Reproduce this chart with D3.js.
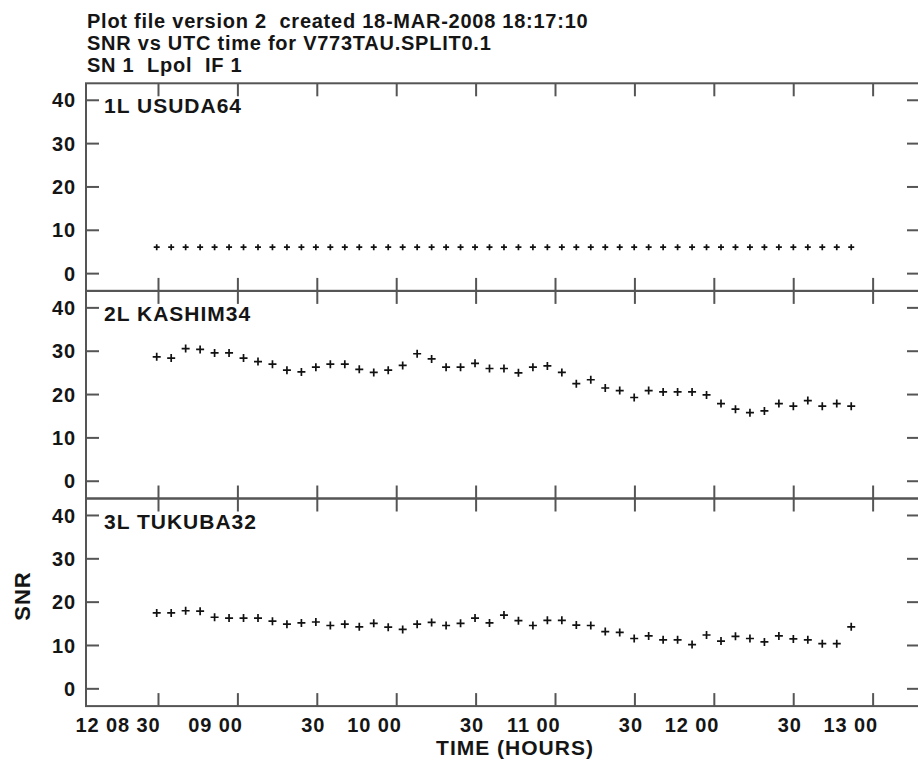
<!DOCTYPE html>
<html>
<head>
<meta charset="utf-8">
<script src="https://cdn.jsdelivr.net/npm/d3@7"></script>
<style>
  body { margin: 0; background: #fff; }
  text { font-family: "Liberation Sans", Arial, sans-serif; font-weight: bold; fill: #151515; white-space: pre; }
</style>
</head>
<body>
<div id="chart-area"></div>
<script>
// title lines
var titleLines = [
    "Plot file version 2  created 18-MAR-2008 18:17:10",
    "SNR vs UTC time for V773TAU.SPLIT0.1",
    "SN 1  Lpol  IF 1"
];

// scan times (UTC)
var times = [
    "08:29:31", "08:34:59", "08:40:27", "08:45:55", "08:51:23", "08:56:51", "09:02:19",
    "09:07:47", "09:13:15", "09:18:43", "09:24:11", "09:29:39", "09:35:07", "09:40:35",
    "09:46:03", "09:51:31", "09:56:59", "10:02:27", "10:07:55", "10:13:23", "10:18:51",
    "10:24:19", "10:29:47", "10:35:15", "10:40:43", "10:46:11", "10:51:39", "10:57:07",
    "11:02:35", "11:08:03", "11:13:31", "11:18:59", "11:24:27", "11:29:55", "11:35:23",
    "11:40:51", "11:46:19", "11:51:47", "11:57:15", "12:02:43", "12:08:11", "12:13:39",
    "12:19:07", "12:24:35", "12:30:03", "12:35:31", "12:40:59", "12:46:27", "12:51:55"
];

var stations = ["1L USUDA64", "2L KASHIM34", "3L TUKUBA32"];

var snrUsuda = [
    6.0, 6.0, 6.0, 6.0, 6.0, 6.0, 6.0, 6.0, 6.0, 6.0, 6.0, 6.0, 6.0, 6.0,
    6.0, 6.0, 6.0, 6.0, 6.0, 6.0, 6.0, 6.0, 6.0, 6.0, 6.0, 6.0, 6.0, 6.0,
    6.0, 6.0, 6.0, 6.0, 6.0, 6.0, 6.0, 6.0, 6.0, 6.0, 6.0, 6.0, 6.0, 6.0,
    6.0, 6.0, 6.0, 6.0, 6.0, 6.0, 6.0
];
var snrKashim = [
    28.6, 28.3, 30.5, 30.3, 29.5, 29.5, 28.3, 27.5, 26.9, 25.5, 25.1, 26.2, 26.9, 26.9,
    25.7, 25.0, 25.5, 26.6, 29.3, 28.1, 26.2, 26.2, 27.1, 25.9, 25.9, 24.9, 26.2, 26.5,
    25.0, 22.4, 23.3, 21.4, 20.8, 19.2, 20.8, 20.5, 20.5, 20.5, 19.8, 17.8, 16.5, 15.7,
    16.1, 17.8, 17.2, 18.5, 17.2, 17.8, 17.2
];
var snrTukuba = [
    17.4, 17.4, 17.9, 17.8, 16.4, 16.2, 16.2, 16.2, 15.5, 14.8, 15.1, 15.3, 14.5, 14.8,
    14.2, 15.0, 14.1, 13.6, 14.8, 15.2, 14.5, 15.0, 16.2, 15.1, 16.9, 15.6, 14.5, 15.7,
    15.7, 14.6, 14.5, 13.1, 12.9, 11.5, 12.1, 11.2, 11.2, 10.1, 12.3, 10.9, 12.0, 11.5,
    10.7, 12.1, 11.4, 11.2, 10.3, 10.3, 14.2
];
var snrSeries = [snrUsuda, snrKashim, snrTukuba];

// axis ticks
var yTicks = [0, 10, 20, 30, 40];
var xTicks = [8.5, 9, 9.5, 10, 10.5, 11, 11.5, 12, 12.5, 13];
var xTickLabels = ["12 08 30", "09 00", "30", "10 00", "30", "11 00", "30", "12 00", "30", "13 00"];

var svgW = 918, svgH = 762;
var plotLeft = 86, plotRight = 920, plotTop = 83.3, panelH = 207.6;
var tick = 13;

function toHours(s) {
    var p = s.split(":");
    return +p[0] + p[1] / 60 + p[2] / 3600;
}

var svg = d3.select("#chart-area")
    .append("svg")
        .attr("width", svgW)
        .attr("height", svgH);

// X Scale (hours UTC)
var x = d3.scaleLinear()
    .domain([8 + 2.8 / 60, 13 + 17.9 / 60])
    .range([plotLeft, plotRight]);

// Y Scale (per panel)
var y = d3.scaleLinear()
    .domain([-4.1, 43.8])
    .range([panelH, 0]);

// Titles
svg.selectAll("text.title")
    .data(titleLines)
    .enter().append("text")
        .attr("class", "title")
        .attr("x", 87)
        .attr("y", function(d, i) { return 28 + i * 22; })
        .attr("font-size", "20px")
        .attr("letter-spacing", "0.75px")
        .text(function(d) { return d; });

stations.forEach(function(name, i) {
    var top = plotTop + i * panelH;
    var g = svg.append("g")
        .attr("transform", "translate(0," + top + ")");

    // frame
    g.append("rect")
        .attr("x", plotLeft)
        .attr("y", 0)
        .attr("width", plotRight - plotLeft)
        .attr("height", panelH)
        .attr("fill", "none")
        .attr("stroke", "#555")
        .attr("stroke-width", 2);

    // left axis
    var left = g.append("g")
        .attr("transform", "translate(" + plotLeft + ",0)")
        .call(d3.axisLeft(y).tickValues(yTicks).tickSize(-tick).tickPadding(10));
    // right axis
    var right = g.append("g")
        .attr("transform", "translate(" + plotRight + ",0)")
        .call(d3.axisRight(y).tickValues(yTicks).tickSize(-tick).tickFormat(""));
    // top axis
    var topAx = g.append("g")
        .call(d3.axisTop(x).tickValues(xTicks).tickSize(-tick).tickFormat(""));
    // bottom axis
    var bottom = g.append("g")
        .attr("transform", "translate(0," + panelH + ")")
        .call(d3.axisBottom(x).tickValues(xTicks).tickSize(-tick).tickPadding(12)
            .tickFormat(function(d, j) { return i == stations.length - 1 ? xTickLabels[j] : ""; }));

    [left, right, topAx, bottom].forEach(function(a) {
        a.select(".domain").remove();
        a.selectAll(".tick line").attr("stroke", "#555").attr("stroke-width", 2);
        a.selectAll(".tick text")
            .attr("fill", "#151515")
            .attr("font-size", "20px")
            .attr("letter-spacing", "0.9px")
            .attr("font-family", "Liberation Sans, Arial, sans-serif");
    });
    left.selectAll(".tick text").attr("dy", "0.36em");
    bottom.selectAll(".tick text")
        .attr("text-anchor", "end")
        .attr("dx", function(d, j) { return j == 0 ? 2 : (xTickLabels[j].length == 2 ? 8 : 5); });

    // station label
    g.append("text")
        .attr("x", 104)
        .attr("y", 30)
        .attr("font-size", "21px")
        .attr("letter-spacing", "1px")
        .text(name);

    // points
    g.selectAll("path.pt")
        .data(snrSeries[i])
        .enter().append("path")
            .attr("class", "pt")
            .attr("transform", function(d, j) {
                return "translate(" + x(toHours(times[j])) + "," + y(d) + ")";
            })
            .attr("d", i == 0 ? "M-3,0H3M0,-3V3" : "M-4,0H4M0,-4V4")
            .attr("stroke", "#111")
            .attr("stroke-width", 1.7);
});

// Y Label
svg.append("text")
    .attr("transform", "translate(30,596) rotate(-90)")
    .attr("text-anchor", "middle")
    .attr("font-size", "22px")
    .attr("letter-spacing", "1px")
    .text("SNR");

// X Label
svg.append("text")
    .attr("x", 515)
    .attr("y", 755)
    .attr("text-anchor", "middle")
    .attr("font-size", "21px")
    .attr("letter-spacing", "1px")
    .text("TIME (HOURS)");
</script>
</body>
</html>
